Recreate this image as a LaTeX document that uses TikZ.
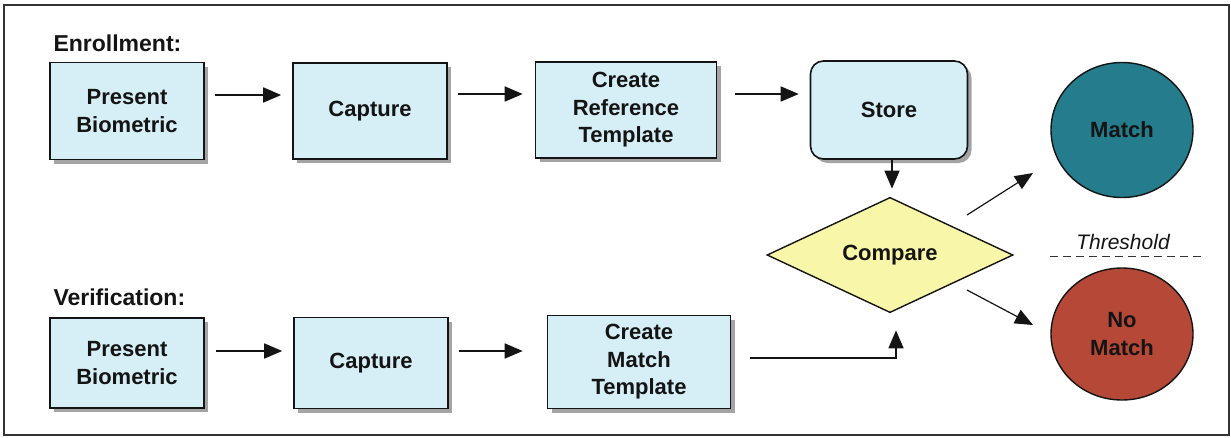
\documentclass[tikz,border=0pt]{standalone}
\usepackage{fontspec}
\setmainfont{Liberation Sans}
\usetikzlibrary{arrows.meta,shapes.geometric,shadows}
\definecolor{boxblue}{RGB}{214,238,246}
\definecolor{cmpyellow}{RGB}{248,246,168}
\definecolor{matchteal}{RGB}{36,124,140}
\definecolor{nomatchred}{RGB}{182,72,56}
\definecolor{inkblack}{RGB}{20,20,20}
\begin{document}
\begin{tikzpicture}[x=1pt,y=-1pt,
  every node/.style={text=inkblack},
  boxtxt/.style={font=\bfseries\fontsize{22}{27.5}\selectfont, align=center},
  stepbox/.style={boxtxt, draw=inkblack, line width=1.6pt, fill=boxblue,
    rectangle, inner sep=0pt,
    drop shadow={shadow xshift=4pt, shadow yshift=-4pt, fill=black!55, opacity=.65}},
  circ/.style={boxtxt, draw=inkblack, line width=1.4pt, ellipse, inner sep=0pt},
  lbl/.style={font=\bfseries\fontsize{23}{26}\selectfont, anchor=west},
  arr/.style={draw=inkblack, line width=1.6pt, -{Triangle[length=18pt,width=15pt]}}]
\useasboundingbox (0,0) rectangle (1231,437);
\draw[black!80, line width=1.5pt] (4,5) rectangle (1229,435);

% enrollment row
\node[lbl] (enr) at (50,43) {Enrollment:};
\node[stepbox, minimum width=154pt, minimum height=97pt] (pb1) at (127,111) {Present\\Biometric};
\node[stepbox, minimum width=154pt, minimum height=96pt] (cap1) at (370,111) {Capture};
\node[stepbox, minimum width=181pt, minimum height=96pt] (crt) at (626,110) {Create\\Reference\\Template};
\node[stepbox, rounded corners=13pt, minimum width=157pt, minimum height=98pt] (store) at (889,110) {Store};

% verification row
\node[lbl] (ver) at (50,297) {Verification:};
\node[stepbox, minimum width=154pt, minimum height=90pt] (pb2) at (127,363) {Present\\Biometric};
\node[stepbox, minimum width=154pt, minimum height=91pt] (cap2) at (371,363) {Capture};
\node[stepbox, minimum width=183pt, minimum height=93pt] (cmt) at (639,362) {Create\\Match\\Template};

% decision and outcomes
\node[boxtxt, diamond, draw=inkblack, line width=1.4pt, fill=cmpyellow,
      minimum width=246pt, minimum height=100pt, inner sep=0pt] (cmp) at (890,255) {Compare};
\node[circ, fill=matchteal, minimum width=142pt, minimum height=135pt] (match) at (1122,130) {Match};
\node[circ, fill=nomatchred, minimum width=142pt, minimum height=132pt] (nomatch) at (1122,334) {No\\Match};

% threshold between outcomes
\node[font=\itshape\fontsize{21}{24}\selectfont] (thr) at (1123,242) {Threshold};
\coordinate (thrL) at (1050,256);
\coordinate (thrR) at (1206,256);
\draw[black!80, line width=1pt, dash pattern=on 8pt off 5pt] (thrL) -- (thrR);

% connectors
\draw[arr] ([xshift=10pt,yshift=16pt]pb1.east) -- ([xshift=-11pt,yshift=16pt]cap1.west);
\draw[arr] ([xshift=10pt,yshift=17pt]cap1.east) -- ([xshift=-12pt,yshift=16pt]crt.west);
\draw[arr] ([xshift=18pt,yshift=16pt]crt.east) -- ([xshift=-11pt,yshift=16pt]store.west);
\draw[arr] ([xshift=3pt]store.south) -- ([xshift=2pt,yshift=8pt]cmp.north);

\draw[arr] ([xshift=11pt,yshift=12pt]pb2.east) -- ([xshift=-11pt,yshift=12pt]cap2.west);
\draw[arr] ([xshift=10pt,yshift=12pt]cap2.east) -- ([xshift=-24pt,yshift=11pt]cmt.west);
\draw[arr] ([xshift=19pt,yshift=4pt]cmt.east) -| ([xshift=6pt,yshift=-17pt]cmp.south);

\draw[arr, line width=1.2pt] ([xshift=77pt,yshift=40pt]cmp.center) -- ([xshift=-89pt,yshift=-43pt]match.center);
\draw[arr, line width=1.2pt] ([xshift=77pt,yshift=-35pt]cmp.center) -- ([xshift=-89pt,yshift=9pt]nomatch.center);
\end{tikzpicture}
\end{document}
